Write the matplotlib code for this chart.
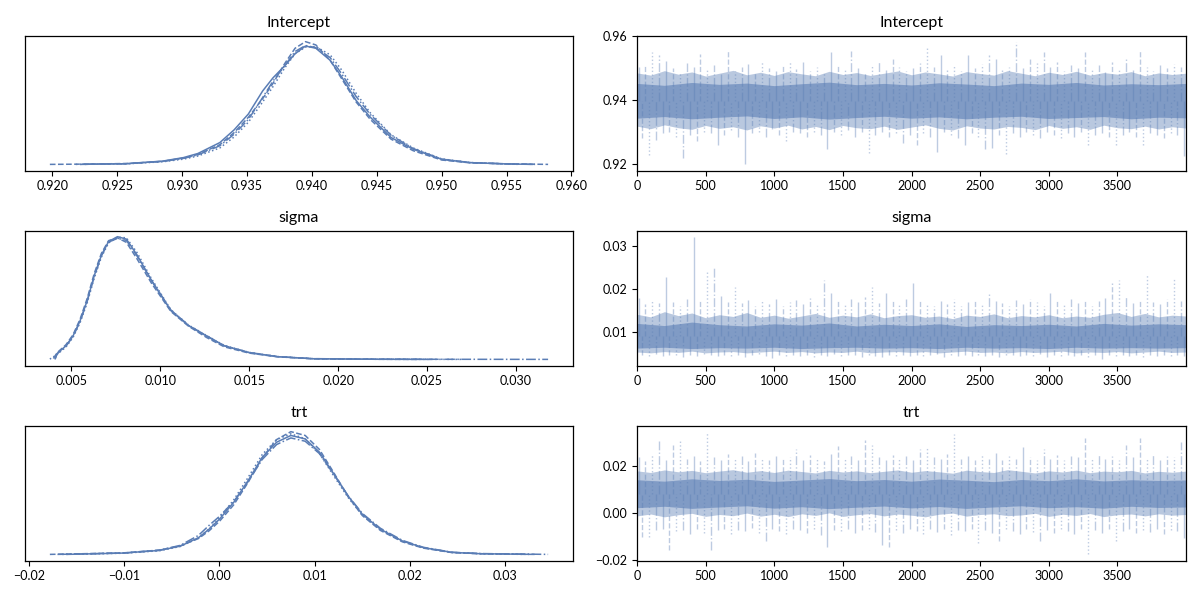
import numpy as np
import matplotlib
matplotlib.use("Agg")
import matplotlib.pyplot as plt

plt.rcParams['font.family'] = ['Lato', 'DejaVu Sans']

C0 = '#5a7db5'
chain_styles = ['solid', 'dashed', 'dotted', 'dashdot']

# ---------------- posterior densities ----------------
int_x = [0.9198, 0.9230, 0.9257, 0.9285, 0.9301, 0.9312, 0.9329, 0.9340, 0.9351, 0.9362,
         0.9370, 0.9379, 0.9387, 0.9395, 0.9403, 0.9414, 0.9423, 0.9434, 0.9445, 0.9461,
         0.9478, 0.9500, 0.9522, 0.9550, 0.9582]
int_start = [0.9222, 0.9198, 0.9218, 0.9225]
int_end = [0.9570, 0.9582, 0.9560, 0.9572]
int_dens = [
    [0.0, 0.2, 0.6, 3.0, 6.2, 9.9, 19.9, 31.5, 46.0, 67.0, 79.0, 90.0, 101.0, 108.0, 106.0, 95.0, 79.7, 58.4, 43.0, 24.5, 13.8, 4.6, 1.6, 0.4, 0.0],
    [0.0, 0.3, 0.8, 2.8, 5.8, 9.0, 18.0, 29.0, 43.0, 60.0, 74.0, 92.0, 106.0, 112.0, 109.0, 95.0, 78.0, 57.0, 41.0, 23.0, 12.5, 4.0, 1.4, 0.5, 0.0],
    [0.0, 0.2, 0.5, 2.4, 4.8, 7.6, 15.0, 25.0, 38.5, 57.0, 71.0, 88.0, 101.0, 107.0, 107.5, 100.0, 86.0, 65.0, 47.0, 27.0, 15.0, 5.0, 1.7, 0.4, 0.0],
    [0.0, 0.2, 0.6, 2.7, 5.5, 8.6, 17.0, 27.5, 41.0, 61.0, 76.0, 90.0, 103.0, 108.5, 106.5, 97.5, 82.5, 62.0, 45.5, 26.5, 14.5, 4.8, 1.6, 0.5, 0.0],
]

sig_x = [0.0038, 0.0042, 0.0047, 0.0051, 0.0055, 0.0059, 0.0063, 0.0067, 0.0071, 0.0076,
         0.0081, 0.0087, 0.0095, 0.0106, 0.0116, 0.0126, 0.0136, 0.0150, 0.0166, 0.0186,
         0.0222, 0.0318]
sig_start = [0.0041, 0.0040, 0.0038, 0.0041]
sig_end = [0.0252, 0.0245, 0.0270, 0.0318]
sig_dens = [
    [1.1, 10.1, 23.7, 40.9, 67.7, 103.2, 147.3, 182.8, 206.4, 215.0, 210.7, 182.8, 138.5, 85.4, 58.9, 40.9, 23.7, 11.8, 4.7, 1.1, 0.2, 0.0],
    [1.5, 11.5, 25.5, 43.0, 70.5, 107.0, 151.0, 186.0, 208.0, 213.0, 205.0, 176.0, 134.0, 84.0, 58.0, 38.5, 22.0, 11.0, 4.5, 1.0, 0.2, 0.0],
    [0.5, 8.5, 21.5, 38.5, 64.5, 99.5, 143.0, 179.5, 204.0, 214.0, 213.0, 187.0, 142.0, 87.0, 60.0, 42.0, 24.5, 12.3, 5.0, 1.2, 0.2, 0.0],
    [1.0, 9.5, 23.0, 40.0, 66.5, 102.0, 146.0, 181.5, 205.5, 212.0, 208.5, 181.0, 139.0, 86.5, 59.5, 41.5, 24.0, 12.0, 4.8, 1.3, 0.3, 0.0],
]

trt_x = [-0.0178, -0.0101, -0.0063, -0.0041, -0.0022, -0.0011, 0.0000, 0.0015, 0.0030, 0.0045,
         0.0060, 0.0075, 0.0090, 0.0105, 0.0120, 0.0135, 0.0150, 0.0169, 0.0192, 0.0214,
         0.0244, 0.0274, 0.0345]
trt_start = [-0.0160, -0.0178, -0.0165, -0.0170]
trt_end = [0.0330, 0.0325, 0.0320, 0.0345]
trt_dens = [
    [0.0, 0.8, 2.4, 5.0, 10.1, 15.2, 21.3, 31.5, 44.6, 58.8, 67.9, 72.0, 69.9, 61.9, 48.7, 35.4, 24.3, 15.2, 8.1, 4.1, 1.2, 0.4, 0.0],
    [0.0, 0.9, 2.6, 5.2, 9.6, 14.2, 20.0, 30.0, 43.5, 58.5, 69.5, 74.3, 72.0, 63.5, 49.5, 35.0, 23.5, 14.5, 7.6, 3.8, 1.1, 0.4, 0.0],
    [0.0, 0.7, 2.2, 4.8, 10.0, 15.5, 22.0, 33.0, 46.5, 60.5, 69.5, 73.0, 70.0, 61.0, 47.5, 34.5, 23.8, 15.0, 8.0, 4.0, 1.2, 0.4, 0.0],
    [0.0, 0.8, 2.5, 5.5, 11.5, 17.5, 23.0, 32.0, 44.0, 57.5, 66.5, 70.5, 68.5, 61.0, 48.5, 35.5, 24.8, 15.8, 8.5, 4.3, 1.3, 0.5, 0.0],
]

# ---------------- traces ----------------
# per 50-draw bin: highest and lowest excursion of any chain
bin_draws = list(range(0, 4000, 50))

int_hi = [0.9505, 0.9510, 0.9550, 0.9540, 0.9522, 0.9500, 0.9488, 0.9515, 0.9505, 0.9545,
          0.9495, 0.9510, 0.9480, 0.9558, 0.9490, 0.9505, 0.9512, 0.9485, 0.9520, 0.9500,
          0.9492, 0.9508, 0.9520, 0.9498, 0.9520, 0.9490, 0.9502, 0.9485, 0.9550, 0.9510,
          0.9495, 0.9555, 0.9500, 0.9488, 0.9510, 0.9520, 0.9495, 0.9530, 0.9505, 0.9492,
          0.9500, 0.9515, 0.9570, 0.9505, 0.9540, 0.9495, 0.9510, 0.9490, 0.9540, 0.9500,
          0.9512, 0.9540, 0.9530, 0.9495, 0.9505, 0.9583, 0.9500, 0.9530, 0.9515, 0.9550,
          0.9505, 0.9520, 0.9490, 0.9510, 0.9500, 0.9550, 0.9495, 0.9510, 0.9488, 0.9520,
          0.9500, 0.9530, 0.9495, 0.9557, 0.9505, 0.9490, 0.9510, 0.9500, 0.9512, 0.9505]
int_lo = [0.9280, 0.9228, 0.9275, 0.9295, 0.9300, 0.9285, 0.9218, 0.9290, 0.9270, 0.9300,
          0.9295, 0.9260, 0.9290, 0.9305, 0.9285, 0.9198, 0.9295, 0.9300, 0.9285, 0.9310,
          0.9290, 0.9270, 0.9300, 0.9295, 0.9285, 0.9300, 0.9290, 0.9245, 0.9300, 0.9290,
          0.9305, 0.9285, 0.9300, 0.9235, 0.9290, 0.9300, 0.9285, 0.9295, 0.9265, 0.9290,
          0.9260, 0.9295, 0.9285, 0.9238, 0.9300, 0.9290, 0.9280, 0.9260, 0.9295, 0.9285,
          0.9245, 0.9248, 0.9290, 0.9232, 0.9295, 0.9285, 0.9300, 0.9290, 0.9280, 0.9300,
          0.9290, 0.9280, 0.9295, 0.9285, 0.9300, 0.9260, 0.9290, 0.9295, 0.9285, 0.9260,
          0.9290, 0.9300, 0.9285, 0.9260, 0.9295, 0.9290, 0.9280, 0.9295, 0.9290, 0.9225]

sig_hi = [0.0180, 0.0165, 0.0175, 0.0168, 0.0229, 0.0170, 0.0160, 0.0178, 0.0321, 0.0172,
          0.0241, 0.0252, 0.0185, 0.0170, 0.0205, 0.0168, 0.0175, 0.0160, 0.0172, 0.0165,
          0.0178, 0.0162, 0.0170, 0.0175, 0.0165, 0.0180, 0.0168, 0.0220, 0.0190, 0.0172,
          0.0165, 0.0178, 0.0170, 0.0182, 0.0206, 0.0168, 0.0190, 0.0172, 0.0165, 0.0178,
          0.0215, 0.0175, 0.0168, 0.0160, 0.0172, 0.0165, 0.0178, 0.0162, 0.0170, 0.0175,
          0.0165, 0.0190, 0.0172, 0.0168, 0.0160, 0.0175, 0.0165, 0.0178, 0.0170, 0.0162,
          0.0190, 0.0172, 0.0165, 0.0178, 0.0168, 0.0175, 0.0160, 0.0172, 0.0180, 0.0215,
          0.0220, 0.0185, 0.0168, 0.0175, 0.0235, 0.0170, 0.0165, 0.0178, 0.0225, 0.0172]
sig_lo = [0.0048, 0.0046, 0.0050, 0.0045, 0.0047, 0.0049, 0.0044, 0.0048, 0.0046, 0.0050,
          0.0047, 0.0045, 0.0049, 0.0046, 0.0048, 0.0044, 0.0047, 0.0050, 0.0045, 0.0042,
          0.0048, 0.0046, 0.0049, 0.0045, 0.0047, 0.0044, 0.0048, 0.0046, 0.0050, 0.0045,
          0.0047, 0.0049, 0.0044, 0.0048, 0.0046, 0.0043, 0.0047, 0.0045, 0.0049, 0.0046,
          0.0048, 0.0045, 0.0047, 0.0050, 0.0044, 0.0048, 0.0046, 0.0049, 0.0045, 0.0047,
          0.0046, 0.0048, 0.0044, 0.0047, 0.0049, 0.0045, 0.0048, 0.0046, 0.0050, 0.0044,
          0.0047, 0.0045, 0.0049, 0.0046, 0.0048, 0.0044, 0.0047, 0.0038, 0.0048, 0.0046,
          0.0049, 0.0045, 0.0047, 0.0044, 0.0048, 0.0046, 0.0049, 0.0045, 0.0047, 0.0046]

trt_hi = [0.0235, 0.0220, 0.0245, 0.0305, 0.0225, 0.0288, 0.0315, 0.0230, 0.0240, 0.0220,
          0.0345, 0.0235, 0.0225, 0.0250, 0.0230, 0.0240, 0.0220, 0.0255, 0.0230, 0.0225,
          0.0240, 0.0228, 0.0235, 0.0273, 0.0225, 0.0245, 0.0230, 0.0220, 0.0250, 0.0283,
          0.0230, 0.0240, 0.0225, 0.0310, 0.0290, 0.0235, 0.0225, 0.0245, 0.0230, 0.0240,
          0.0225, 0.0270, 0.0280, 0.0235, 0.0228, 0.0250, 0.0335, 0.0230, 0.0240, 0.0225,
          0.0245, 0.0230, 0.0255, 0.0225, 0.0240, 0.0230, 0.0280, 0.0235, 0.0225, 0.0270,
          0.0230, 0.0245, 0.0225, 0.0240, 0.0235, 0.0320, 0.0228, 0.0250, 0.0230, 0.0240,
          0.0225, 0.0290, 0.0235, 0.0320, 0.0230, 0.0245, 0.0225, 0.0240, 0.0235, 0.0300]
trt_lo = [-0.0105, -0.0105, -0.0075, -0.0068, -0.0160, -0.0080, -0.0072, -0.0090, -0.0070, -0.0085,
          -0.0160, -0.0075, -0.0068, -0.0090, -0.0072, -0.0080, -0.0065, -0.0085, -0.0122, -0.0070,
          -0.0078, -0.0092, -0.0068, -0.0075, -0.0085, -0.0070, -0.0095, -0.0148, -0.0072, -0.0080,
          -0.0068, -0.0088, -0.0075, -0.0070, -0.0082, -0.0137, -0.0148, -0.0072, -0.0085, -0.0068,
          -0.0078, -0.0090, -0.0070, -0.0082, -0.0068, -0.0095, -0.0075, -0.0080, -0.0070, -0.0130,
          -0.0072, -0.0085, -0.0120, -0.0068, -0.0078, -0.0090, -0.0070, -0.0082, -0.0120, -0.0075,
          -0.0085, -0.0068, -0.0078, -0.0092, -0.0070, -0.0178, -0.0075, -0.0085, -0.0068, -0.0120,
          -0.0078, -0.0070, -0.0088, -0.0075, -0.0082, -0.0068, -0.0090, -0.0072, -0.0080, -0.0110]

# dense part of the traces: light outer band every 100 draws, dark core every 200 draws
outer_draws = list(range(0, 4000, 100)) + [3999]
inner_draws = list(range(0, 4000, 200)) + [3999]

int_outer_hi = [0.9485, 0.9478, 0.9492, 0.9481, 0.9488, 0.9475, 0.9484, 0.9493, 0.9479, 0.9487,
                0.9477, 0.9489, 0.9482, 0.9476, 0.9490, 0.9480, 0.9486, 0.9477, 0.9484, 0.9491,
                0.9479, 0.9488, 0.9482, 0.9475, 0.9489, 0.9483, 0.9478, 0.9492, 0.9484, 0.9476,
                0.9487, 0.9480, 0.9490, 0.9478, 0.9486, 0.9481, 0.9489, 0.9476, 0.9485, 0.9480, 0.9484]
int_outer_lo = [0.9318, 0.9310, 0.9322, 0.9313, 0.9308, 0.9320, 0.9311, 0.9316, 0.9306, 0.9319,
                0.9312, 0.9321, 0.9309, 0.9317, 0.9307, 0.9320, 0.9313, 0.9310, 0.9318, 0.9308,
                0.9315, 0.9322, 0.9311, 0.9306, 0.9319, 0.9312, 0.9309, 0.9317, 0.9314, 0.9307,
                0.9320, 0.9311, 0.9316, 0.9308, 0.9321, 0.9313, 0.9310, 0.9318, 0.9309, 0.9316, 0.9312]
int_inner_hi = [0.9452, 0.9446, 0.9455, 0.9449, 0.9453, 0.9445, 0.9451, 0.9456, 0.9448, 0.9452,
                0.9447, 0.9454, 0.9450, 0.9445, 0.9453, 0.9449, 0.9455, 0.9447, 0.9451, 0.9448, 0.9452]
int_inner_lo = [0.9343, 0.9348, 0.9341, 0.9346, 0.9350, 0.9342, 0.9347, 0.9340, 0.9345, 0.9349,
                0.9343, 0.9347, 0.9341, 0.9346, 0.9349, 0.9342, 0.9345, 0.9348, 0.9341, 0.9346, 0.9344]

sig_outer_hi = [0.0142, 0.0136, 0.0148, 0.0139, 0.0145, 0.0134, 0.0141, 0.0137, 0.0146, 0.0135,
                0.0140, 0.0133, 0.0138, 0.0144, 0.0135, 0.0140, 0.0136, 0.0143, 0.0134, 0.0139,
                0.0141, 0.0135, 0.0138, 0.0132, 0.0140, 0.0137, 0.0143, 0.0134, 0.0139, 0.0136,
                0.0141, 0.0134, 0.0138, 0.0135, 0.0142, 0.0146, 0.0137, 0.0144, 0.0136, 0.0140, 0.0138]
sig_outer_lo = [0.0055, 0.0053, 0.0056, 0.0054, 0.0057, 0.0053, 0.0055, 0.0056, 0.0053, 0.0055,
                0.0057, 0.0054, 0.0056, 0.0053, 0.0055, 0.0054, 0.0057, 0.0053, 0.0055, 0.0056,
                0.0054, 0.0056, 0.0053, 0.0055, 0.0057, 0.0054, 0.0055, 0.0053, 0.0056, 0.0054,
                0.0055, 0.0057, 0.0053, 0.0055, 0.0054, 0.0056, 0.0053, 0.0055, 0.0057, 0.0054, 0.0055]
sig_inner_hi = [0.0121, 0.0116, 0.0124, 0.0118, 0.0115, 0.0120, 0.0117, 0.0122, 0.0115, 0.0119,
                0.0116, 0.0120, 0.0114, 0.0118, 0.0116, 0.0119, 0.0115, 0.0121, 0.0117, 0.0120, 0.0118]
sig_inner_lo = [0.0064, 0.0066, 0.0063, 0.0065, 0.0064, 0.0066, 0.0063, 0.0065, 0.0066, 0.0064,
                0.0065, 0.0063, 0.0066, 0.0064, 0.0065, 0.0063, 0.0066, 0.0064, 0.0065, 0.0064, 0.0065]

trt_outer_hi = [0.0178, 0.0171, 0.0182, 0.0174, 0.0180, 0.0170, 0.0177, 0.0183, 0.0172, 0.0179,
                0.0171, 0.0181, 0.0175, 0.0169, 0.0180, 0.0173, 0.0178, 0.0170, 0.0176, 0.0182,
                0.0172, 0.0179, 0.0174, 0.0168, 0.0181, 0.0175, 0.0171, 0.0183, 0.0176, 0.0169,
                0.0178, 0.0173, 0.0181, 0.0170, 0.0177, 0.0174, 0.0180, 0.0169, 0.0176, 0.0172, 0.0177]
trt_outer_lo = [-0.0014, -0.0006, -0.0018, -0.0009, -0.0003, -0.0016, -0.0008, -0.0013, -0.0002, -0.0015,
                -0.0007, -0.0017, -0.0005, -0.0012, -0.0001, -0.0016, -0.0009, -0.0004, -0.0014, -0.0006,
                -0.0011, -0.0018, -0.0007, -0.0002, -0.0015, -0.0008, -0.0005, -0.0013, -0.0010, -0.0003,
                -0.0016, -0.0007, -0.0012, -0.0004, -0.0017, -0.0009, -0.0006, -0.0014, -0.0005, -0.0011, -0.0008]
trt_inner_hi = [0.0140, 0.0134, 0.0144, 0.0137, 0.0142, 0.0133, 0.0139, 0.0145, 0.0136, 0.0141,
                0.0134, 0.0143, 0.0138, 0.0132, 0.0141, 0.0136, 0.0144, 0.0135, 0.0140, 0.0137, 0.0139]
trt_inner_lo = [0.0021, 0.0027, 0.0018, 0.0024, 0.0029, 0.0019, 0.0025, 0.0017, 0.0023, 0.0028,
                0.0020, 0.0026, 0.0018, 0.0024, 0.0029, 0.0021, 0.0025, 0.0019, 0.0027, 0.0022, 0.0024]

params = [
    dict(name='Intercept', x=int_x, start=int_start, end=int_end, dens=int_dens,
         hi=int_hi, lo=int_lo,
         outer=(int_outer_lo, int_outer_hi), inner=(int_inner_lo, int_inner_hi),
         kde_ticks=[0.920, 0.925, 0.930, 0.935, 0.940, 0.945, 0.950, 0.955, 0.960],
         kde_fmt='{:.3f}', tr_ticks=[0.92, 0.94, 0.96], tr_fmt='{:.2f}'),
    dict(name='sigma', x=sig_x, start=sig_start, end=sig_end, dens=sig_dens,
         hi=sig_hi, lo=sig_lo,
         outer=(sig_outer_lo, sig_outer_hi), inner=(sig_inner_lo, sig_inner_hi),
         kde_ticks=[0.005, 0.010, 0.015, 0.020, 0.025, 0.030],
         kde_fmt='{:.3f}', tr_ticks=[0.01, 0.02, 0.03], tr_fmt='{:.2f}'),
    dict(name='trt', x=trt_x, start=trt_start, end=trt_end, dens=trt_dens,
         hi=trt_hi, lo=trt_lo,
         outer=(trt_outer_lo, trt_outer_hi), inner=(trt_inner_lo, trt_inner_hi),
         kde_ticks=[-0.02, -0.01, 0.00, 0.01, 0.02, 0.03],
         kde_fmt='{:.2f}', tr_ticks=[-0.02, 0.00, 0.02], tr_fmt='{:.2f}'),
]


def fmt(f, v):
    s = f.format(v)
    if s.startswith('-'):
        s = '\u2212' + s[1:]
    return s


fig = plt.figure(figsize=(12, 6), dpi=100)
rows_bottom = [0.7158, 0.3908, 0.0658]
row_h = 0.225

for r, p in enumerate(params):
    ax_k = fig.add_axes([0.0208, rows_bottom[r], 0.4567, row_h])
    ax_t = fig.add_axes([0.5308, rows_bottom[r], 0.4575, row_h])

    # density, one line per chain
    for c in range(4):
        xs = [p['start'][c]] + p['x'][1:-1] + [p['end'][c]]
        ax_k.plot(xs, p['dens'][c], color=C0, lw=1.1, ls=chain_styles[c])
    ax_k.set_yticks([])
    ax_k.set_xticks(p['kde_ticks'])
    ax_k.set_xticklabels([fmt(p['kde_fmt'], v) for v in p['kde_ticks']])
    ax_k.set_title(p['name'], fontsize=11.5)

    # trace: dense band plus the excursions
    ax_t.fill_between(outer_draws, p['outer'][0], p['outer'][1], color=C0, alpha=0.42, lw=0)
    ax_t.fill_between(inner_draws, p['inner'][0], p['inner'][1], color=C0, alpha=0.6, lw=0)
    mid = np.mean(p['inner'])
    xb = np.array(bin_draws)
    styles = [chain_styles[i % 4] for i in range(len(xb))]
    ax_t.vlines(xb + 12, mid, p['hi'], color=C0, alpha=0.4, lw=1.0, linestyles=styles)
    ax_t.vlines(xb + 37, p['lo'], mid, color=C0, alpha=0.4, lw=1.0,
                linestyles=styles[1:] + styles[:1])
    lo_all = min(p['lo'])
    hi_all = max(p['hi'])
    pad = 0.05 * (hi_all - lo_all)
    ax_t.set_ylim(lo_all - pad, hi_all + pad)
    ax_t.set_xlim(0, 3999)
    ax_t.set_xticks([0, 500, 1000, 1500, 2000, 2500, 3000, 3500])
    ax_t.set_yticks(p['tr_ticks'])
    ax_t.set_yticklabels([fmt(p['tr_fmt'], v) for v in p['tr_ticks']])
    ax_t.set_title(p['name'], fontsize=11.5)

    for ax in (ax_k, ax_t):
        ax.tick_params(labelsize=9, length=3.5, width=0.8, color='black')
        for s in ax.spines.values():
            s.set_linewidth(0.9)

fig.savefig('out.png', dpi=100)
